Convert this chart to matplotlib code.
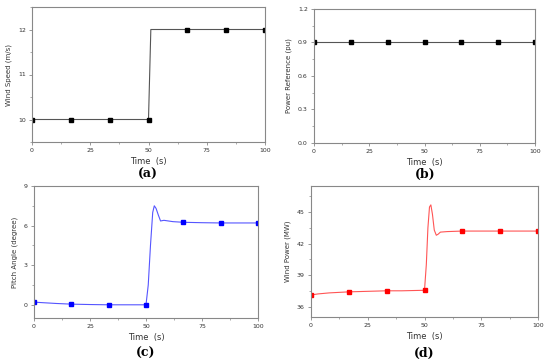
import numpy as np
import matplotlib.pyplot as plt
from matplotlib.ticker import MultipleLocator

# (a) wind speed
t_wind = [0, 50, 51, 100]
wind = [10, 10, 12, 12]
t_mark = [0, 16.7, 33.3, 50, 66.7, 83.3, 100]
wind_mark = [10, 10, 10, 10, 12, 12, 12]

# (b) power reference
t_ref = [0, 100]
pref = [0.9, 0.9]
pref_mark = [0.9] * 7

# (c) pitch angle
t_pitch = [0, 5, 10, 16.7, 25, 33.3, 40, 50, 51, 52, 53, 53.7, 54.5, 55.5, 56.5, 58, 62, 66.7, 75, 83.3, 90, 100]
pitch = [0.2, 0.15, 0.1, 0.05, 0.02, 0.0, 0.0, 0.0, 1.5, 4.5, 7.0, 7.5, 7.3, 6.8, 6.35, 6.4, 6.3, 6.25, 6.22, 6.2, 6.2, 6.2]
pitch_mark = [0.2, 0.05, 0.0, 0.0, 6.25, 6.2, 6.2]

# (d) wind power
t_pow = [0, 3, 8, 16.7, 25, 33.3, 40, 50, 50.8, 51.5, 52.2, 52.8, 53.5, 54.3, 55.2, 56, 57, 60, 66.7, 75, 83.3, 100]
power = [37.1, 37.2, 37.3, 37.4, 37.45, 37.5, 37.5, 37.55, 40.0, 43.5, 45.5, 45.7, 44.8, 43.3, 42.8, 42.9, 43.1, 43.15, 43.2, 43.2, 43.2, 43.2]
power_mark = [37.1, 37.4, 37.5, 37.55, 43.2, 43.2, 43.2]

gray = '#888888'

fig = plt.figure(figsize=(5.5, 3.62), dpi=100)
W, H = 550, 362


def make_ax(l, r, t, b):
    ax = fig.add_axes([l / W, 1 - b / H, (r - l) / W, (b - t) / H])
    for s in ax.spines.values():
        s.set_color(gray)
        s.set_linewidth(0.8)
    ax.tick_params(which='both', direction='out', color=gray, labelsize=4.5, labelcolor='#333333')
    ax.tick_params(which='major', length=2.5, width=0.6, pad=2)
    ax.tick_params(which='minor', length=1.5, width=0.5)
    ax.set_xlim(0, 100)
    ax.xaxis.set_major_locator(MultipleLocator(25))
    ax.xaxis.set_minor_locator(MultipleLocator(12.5))
    ax.set_xlabel('Time  (s)', fontsize=6, labelpad=3, color='#333333')
    return ax


# (a)
ax = make_ax(32, 265, 7, 142)
ax.plot(t_wind, wind, color='#555555', lw=0.8)
ax.plot(t_mark, wind_mark, 's', color='black', ms=2.3, ls='none')
ax.set_ylim(9.5, 12.5)
ax.yaxis.set_major_locator(MultipleLocator(1))
ax.yaxis.set_minor_locator(MultipleLocator(0.5))
ax.set_ylabel('Wind Speed (m/s)', fontsize=5, labelpad=4, color='#333333')

# (b)
ax = make_ax(314, 535, 9, 143)
ax.plot(t_ref, pref, color='#555555', lw=0.8)
ax.plot(t_mark, pref_mark, 's', color='black', ms=2.3, ls='none')
ax.set_ylim(0, 1.2)
ax.yaxis.set_major_locator(MultipleLocator(0.3))
ax.yaxis.set_minor_locator(MultipleLocator(0.15))
ax.set_ylabel('Power Reference (pu)', fontsize=5, labelpad=4, color='#333333')

# (c)
ax = make_ax(34, 258, 186, 318)
ax.plot(t_pitch, pitch, color='#5555ff', lw=0.8)
ax.plot(t_mark, pitch_mark, 's', color='#0000ff', ms=2.3, ls='none')
ax.set_ylim(-1.0, 9)
ax.yaxis.set_major_locator(MultipleLocator(3))
ax.yaxis.set_minor_locator(MultipleLocator(1.5))
ax.set_ylabel('Pitch Angle (degree)', fontsize=5, labelpad=4, color='#333333')

# (d)
ax = make_ax(311, 538, 186, 317)
ax.plot(t_pow, power, color='#ff5555', lw=0.8)
ax.plot(t_mark, power_mark, 's', color='#ff0000', ms=2.3, ls='none')
ax.set_ylim(35, 47.5)
ax.yaxis.set_major_locator(MultipleLocator(3))
ax.yaxis.set_minor_locator(MultipleLocator(1.5))
ax.set_ylabel('Wind Power (MW)', fontsize=5, labelpad=4, color='#333333')

for lbl, x, y in [('(a)', 148, 174), ('(b)', 425, 174), ('(c)', 146, 353), ('(d)', 424, 353)]:
    fig.text(x / W, 1 - y / H, lbl, fontsize=9, fontweight='bold', family='DejaVu Serif',
             ha='center', va='center')

fig.savefig('out.png', dpi=100)
